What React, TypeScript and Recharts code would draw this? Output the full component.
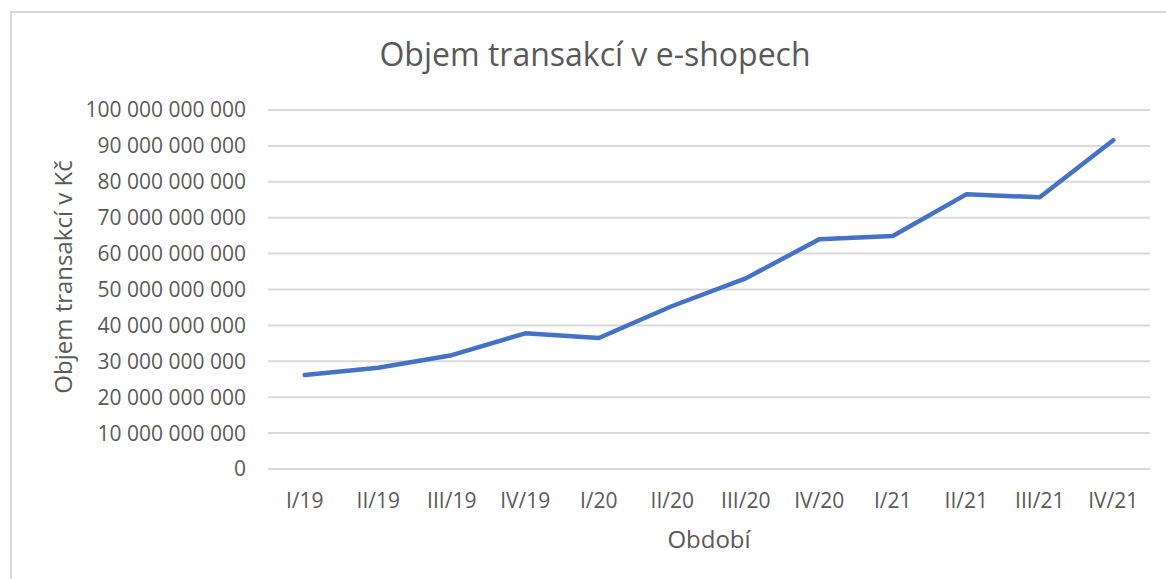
import React from "react";
import { LineChart, Line, XAxis, YAxis, CartesianGrid, Label } from "recharts";

const periods = ["I/19", "II/19", "III/19", "IV/19", "I/20", "II/20", "III/20", "IV/20", "I/21", "II/21", "III/21", "IV/21"];
const volumes = [
  26200000000, 28200000000, 31700000000, 37800000000, 36500000000, 45400000000,
  53100000000, 64000000000, 64900000000, 76500000000, 75700000000, 91600000000,
];
const yTicks = [0, 10000000000, 20000000000, 30000000000, 40000000000, 50000000000, 60000000000, 70000000000, 80000000000, 90000000000, 100000000000];

const data = periods.map((p, i) => ({ period: p, value: volumes[i] }));

const fmt = (v: number) => String(v).replace(/\B(?=(\d{3})+(?!\d))/g, " ");

const FONT = "'Open Sans', Lato, sans-serif";
const TEXT = "#595959";

const YTitle = () => (
  <text x={62} y={277} transform="rotate(-90 62 277)" textAnchor="middle" dominantBaseline="central" fill={TEXT} fontSize={24} fontFamily={FONT}>
    Objem transakcí v Kč
  </text>
);

export default function App() {
  return (
    <div style={{ position: "absolute", left: 0, top: 0, width: 1166, height: 579, overflow: "hidden", background: "#fff", fontFamily: FONT }}>
      <div style={{ position: "absolute", left: 10, top: 11, width: 1200, height: 620, border: "2px solid #d9d9d9", boxSizing: "border-box" }} />
      <div style={{ position: "absolute", left: 0, top: 32, width: 1190, textAlign: "center", fontSize: 32, color: TEXT, lineHeight: "44px", whiteSpace: "nowrap" }}>
        Objem transakcí v e-shopech
      </div>
      <div style={{ position: "absolute", left: 0, top: 0 }}>
        <LineChart width={1166} height={579} data={data} margin={{ top: 110, right: 16, bottom: 50, left: 80 }}>
          <CartesianGrid vertical={false} stroke="#d9d9d9" strokeWidth={2} />
          <XAxis
            dataKey="period"
            axisLine={{ stroke: "#d9d9d9", strokeWidth: 2 }}
            tickLine={false}
            tickSize={0}
            tickMargin={24}
            height={60}
            padding={{ left: 36.75, right: 36.75 }}
            tick={{ fill: TEXT, fontSize: 21, fontFamily: FONT }}
          >
            <Label value="Období" position="insideBottom" offset={-19} fill={TEXT} fontSize={24} fontFamily={FONT} />
          </XAxis>
          <YAxis
            domain={[0, 100000000000]}
            ticks={yTicks}
            tickFormatter={fmt}
            axisLine={false}
            tickLine={false}
            tickSize={0}
            tickMargin={22}
            width={188}
            interval={0}
            tick={{ fill: TEXT, fontSize: 21, fontFamily: FONT }}
          >
            <Label content={YTitle} />
          </YAxis>
          <Line
            type="linear"
            dataKey="value"
            stroke="#4472C4"
            strokeWidth={4.5}
            strokeLinecap="round"
            strokeLinejoin="round"
            dot={false}
            activeDot={false}
            isAnimationActive={false}
          />
        </LineChart>
      </div>
    </div>
  );
}
